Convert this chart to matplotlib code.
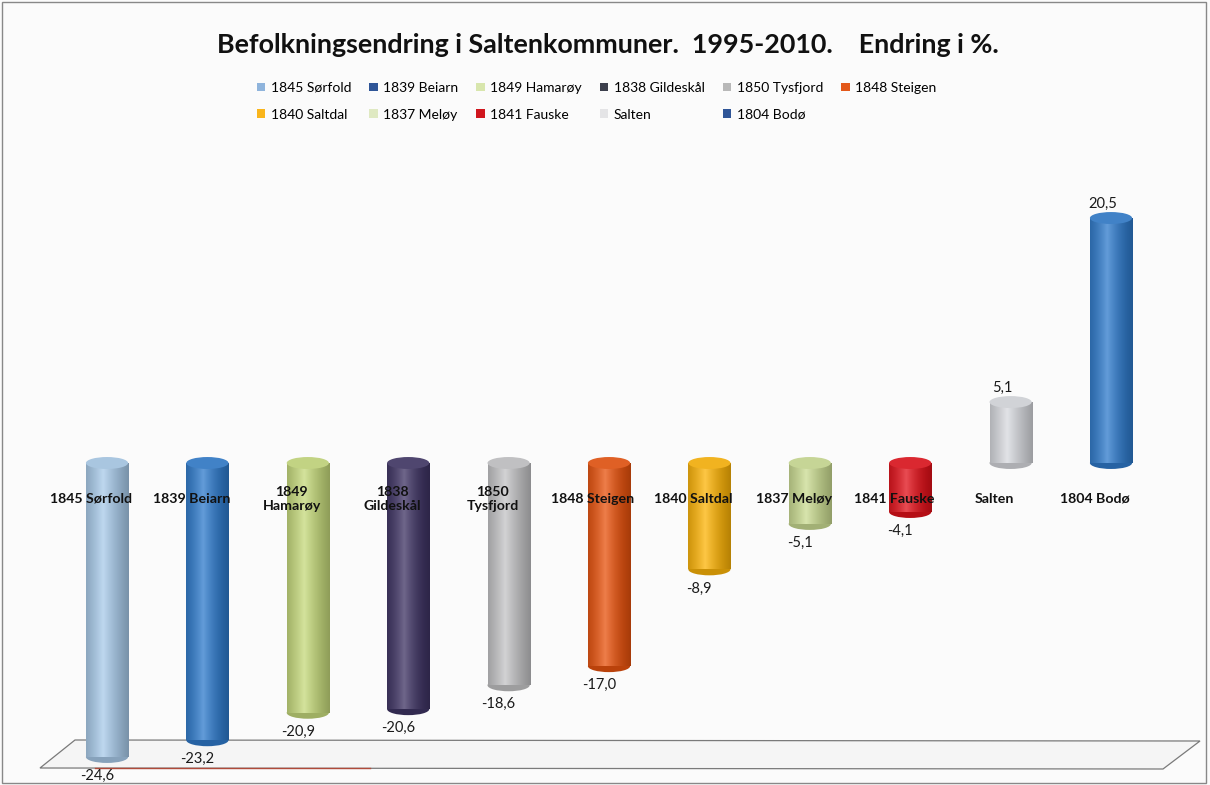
import numpy as np
import matplotlib.pyplot as plt
from matplotlib.patches import Ellipse, Patch, Polygon, Rectangle
from matplotlib.colors import to_rgb

plt.rcParams['font.family'] = ['Lato', 'DejaVu Sans']

# data
kommuner = ['1845 Sørfold', '1839 Beiarn', '1849\nHamarøy', '1838\nGildeskål', '1850\nTysfjord',
            '1848 Steigen', '1840 Saltdal', '1837 Meløy', '1841 Fauske', 'Salten', '1804 Bodø']
legendnavn = ['1845 Sørfold', '1839 Beiarn', '1849 Hamarøy', '1838 Gildeskål', '1850 Tysfjord',
              '1848 Steigen', '1840 Saltdal', '1837 Meløy', '1841 Fauske', 'Salten', '1804 Bodø']
endring = [-24.6, -23.2, -20.9, -20.6, -18.6, -17.0, -8.9, -5.1, -4.1, 5.1, 20.5]
farger = ['#a9cbea', '#2f7bcc', '#c6da7c', '#3f3464', '#c4c4c6', '#e8530e',
          '#fdb408', '#cbdc92', '#e2111a', '#d8dadf', '#2f7bcc']
legendfarger = ['#8fb4dc', '#2f5597', '#d8e6ad', '#3c3f4c', '#b8b8b8', '#e3581a',
                '#f9b51c', '#dfe9c2', '#d0161e', '#e4e4e6', '#2f5597']

W, H = 1210, 785
fig = plt.figure(figsize=(W / 100, H / 100), dpi=100)
fig.patch.set_facecolor('#fbfbfb')

def fx(px):
    return px / W

def fy(py):
    return 1 - py / H

# gulv og ramme, bak aksen
gulv = Polygon([(fx(40), fy(768)), (fx(75), fy(740)), (fx(1200), fy(741)), (fx(1163), fy(769))],
               closed=True, transform=fig.transFigure, facecolor='#f5f5f5', edgecolor='#7a7a7a',
               lw=0.9, zorder=-2)
fig.patches.append(gulv)
fig.lines.append(plt.Line2D([fx(95), fx(370)], [fy(768), fy(768)], transform=fig.transFigure,
                            color='#b04a3a', lw=1.0, zorder=-1))
fig.patches.append(Rectangle((fx(2), fy(783)), fx(1206) - fx(2), fy(2) - fy(783),
                             transform=fig.transFigure, fill=False, edgecolor='#888888',
                             lw=1.0, zorder=-1))

ax = fig.add_axes([0, 0, 1, 1])
ax.set_facecolor('none')
ax.axis('off')

x0, dx = 107, 100.4
ppu = 11.95
xlim = (-x0 / dx, (W - x0) / dx)
ylim = (-(H - 463) / ppu, 463 / ppu)

bw = 0.42
cap = 1.0
for i, (v, c) in enumerate(zip(endring, farger)):
    rgb = np.array(to_rgb(c))
    t = np.linspace(0, 1, 60)
    light = 1 - np.abs(t - 0.4) / 0.6
    shade = np.where(light > 0, light, 0)
    col = rgb[None, :] * (0.72 + 0.28 * shade[:, None]) + (1 - rgb[None, :]) * 0.25 * shade[:, None] ** 2
    col = np.clip(col, 0, 1)
    lo, hi = min(0, v), max(0, v)
    ax.add_patch(Ellipse((i, lo), bw, cap, facecolor=rgb * 0.8, edgecolor='none', zorder=2))
    bar = ax.bar(i, v, width=bw, color=c, zorder=3)[0]
    im = ax.imshow(col[None, :, :], extent=[i - bw / 2, i + bw / 2, lo, hi], aspect='auto',
                   zorder=3.5, interpolation='bilinear')
    im.set_clip_path(bar)
    top = np.clip(rgb * 0.85 + 0.1, 0, 1)
    ax.add_patch(Ellipse((i, hi), bw, cap, facecolor=top, edgecolor='none', zorder=4))
    tekst = f'{v:.1f}'.replace('.', ',')
    if v < 0:
        ax.text(i - 0.1, v - 1.6, tekst, ha='center', va='center', fontsize=10.5,
                color='#1a1a1a', zorder=6)
    else:
        ax.text(i - 0.08, v + 1.2, tekst, ha='center', va='center', fontsize=10.5,
                color='#1a1a1a', zorder=6)
    ax.text(i - 0.16, -3.0, kommuner[i], ha='center', va='center', fontsize=10.2,
            fontweight='bold', color='#111111', linespacing=1.2, zorder=6)

ax.set_xlim(*xlim)
ax.set_ylim(*ylim)

fig.text(fx(608), fy(45), 'Befolkningsendring i Saltenkommuner.  1995-2010.    Endring i %.',
         ha='center', va='center', fontsize=19.4, fontweight='bold', color='#111111')

# legend i radrekkefolge
rekkef = [0, 6, 1, 7, 2, 8, 3, 9, 4, 10, 5]
handles = [Patch(facecolor=legendfarger[k], edgecolor='none', label=legendnavn[k]) for k in rekkef]
fig.legend(handles=handles, ncol=6, loc='upper left', bbox_to_anchor=(fx(250), fy(75)),
           frameon=False, fontsize=10, handlelength=0.6, handleheight=0.6, handletextpad=0.4,
           columnspacing=1.3, labelspacing=1.05, borderpad=0)

fig.savefig('out.png', dpi=100, facecolor=fig.get_facecolor())
